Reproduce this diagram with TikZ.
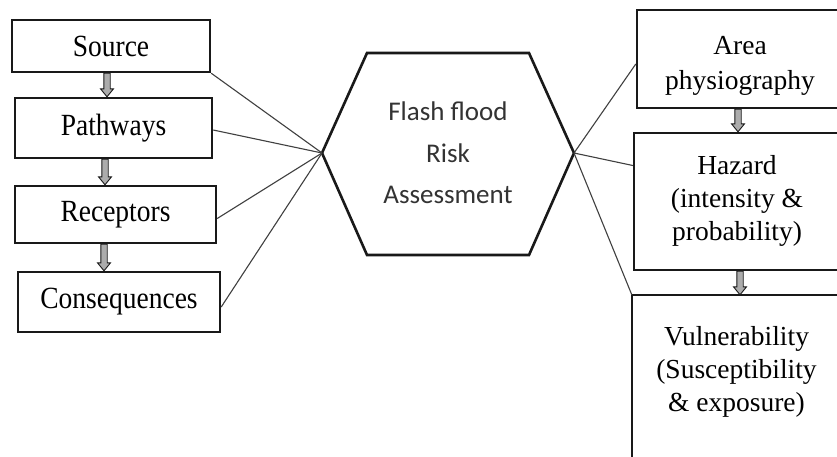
\documentclass[tikz,border=0pt]{standalone}
\usepackage{fontspec}
\usepackage{graphicx}
\setmainfont{Liberation Serif}
\newfontfamily\hexfont{Carlito}
\usetikzlibrary{calc}
\newcommand\lft[1]{\scalebox{1}[1.12]{#1}}
\tikzset{
  boxnode/.style={draw=black!90, line width=2.4pt, inner sep=0pt, align=center,
    font=\fontsize{27.5}{33}\selectfont, text=black},
  txtnode/.style={inner sep=0pt, align=center, font=\fontsize{27.5}{33}\selectfont, text=black},
  conn/.style={draw=black!75, line width=1.1pt},
  blk/.style={draw=black!90, line width=0.9pt, fill=gray!65},
  hexline/.style={draw=black!90, line width=2.6pt, line join=miter},
}
\newcommand\dnarrow[3]{%
  \path[blk] let \p1=(#1.south), \p2=(#2.north) in
    (#3pt-3.2pt,\y1) -- (#3pt+3.2pt,\y1) -- (#3pt+3.2pt,\y2+8pt) -- (#3pt+6.5pt,\y2+8pt)
    -- (#3pt,\y2) -- (#3pt-6.5pt,\y2+8pt) -- (#3pt-3.2pt,\y2+8pt) -- cycle;}
\begin{document}
\begin{tikzpicture}[x=1pt,y=-1pt]
\useasboundingbox (0,0) rectangle (837,456);
\clip (0,0) rectangle (837,456);
\fill[white] (0,0) rectangle (837,456);
% left chain
\node[boxnode, minimum width=198, minimum height=52] (src) at (111,46) {\lft{Source}};
\node[boxnode, minimum width=197, minimum height=60] (pth) at (113.5,128) {\lft{Pathways}};
\node[boxnode, minimum width=201, minimum height=57] (rec) at (115.5,214.5) {\lft{Receptors}};
\node[boxnode, minimum width=202, minimum height=60] (con) at (119,302) {\lft{Consequences}};
% hexagon
\coordinate (hexL) at (322,153);
\coordinate (hexR) at (574,153);
\path[hexline] (hexL) -- (367,53) -- (529,53) -- (hexR) -- (529,255) -- (367,255) -- cycle;
\node[align=center, inner sep=0pt, font=\hexfont\fontsize{27}{41.5}\selectfont, text=black!80] (hex) at (448,153)
  {Flash flood\\Risk\\Assessment};
% right chain
\node[boxnode, minimum width=205, minimum height=98] (area) at (739.5,59) {};
\node[txtnode, font=\fontsize{27.5}{35}\selectfont] (areatxt) at (740,66) {Area\\physiography};
\node[boxnode, minimum width=208, minimum height=137] (haz) at (738,201.5) {};
\node[txtnode] (haztxt) at (737,201) {Hazard\\(intensity \&\\probability)};
\node[boxnode, draw=none, minimum width=209, minimum height=148] (vul) at (737.5,370) {};
\node[txtnode] (vultxt) at (736.5,372) {Vulnerability\\(Susceptibility\\\& exposure)};
\path[boxnode] (vul.north west) rectangle ($(vul.south east)+(0,40)$);
% block arrows
\dnarrow{src}{pth}{107}
\dnarrow{pth}{rec}{105}
\dnarrow{rec}{con}{104}
\dnarrow{area}{haz}{738}
\dnarrow{haz}{vul}{740}
% connectors
\path[conn] (src.south east) -- (hexL);
\path[conn] ([yshift=-2pt]pth.east) -- (hexL);
\path[conn] ([yshift=-4pt]rec.east) -- (hexL);
\path[conn] ([yshift=-5pt]con.east) -- (hexL);
\path[conn] (hexR) -- ([yshift=-5pt]area.west);
\path[conn] (hexR) -- ([yshift=36pt]haz.west);
\path[conn] (hexR) -- (vul.north west);
\end{tikzpicture}
\end{document}
